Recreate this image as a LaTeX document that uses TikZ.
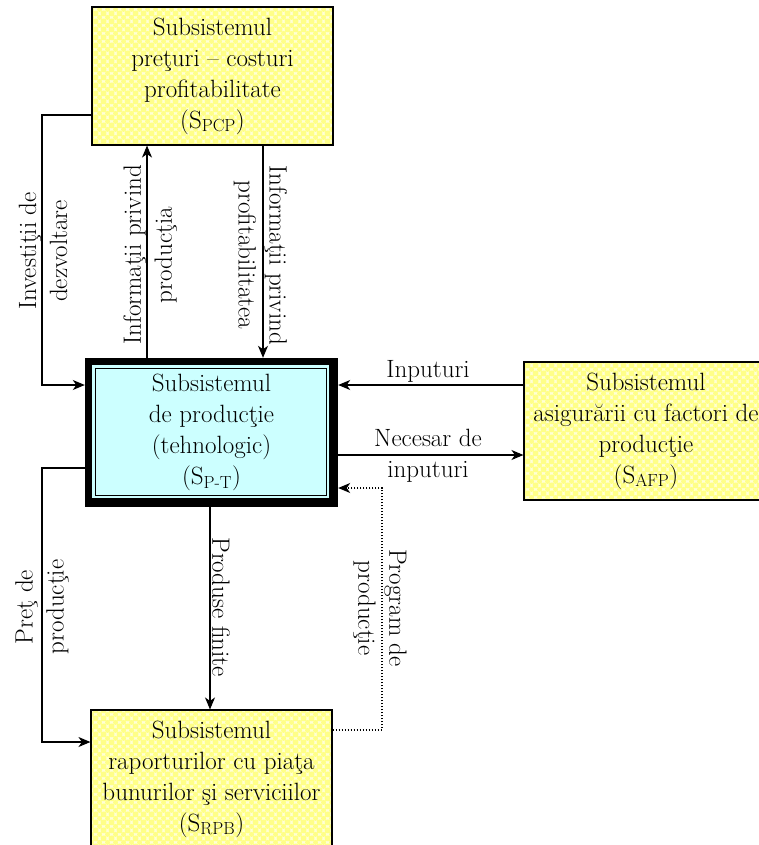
\documentclass[tikz,border=0pt]{standalone}
\usepackage{fontspec}
\usetikzlibrary{arrows.meta,patterns,backgrounds}
\definecolor{ybg}{HTML}{FFFFD8}
\definecolor{ydot}{HTML}{FFFF88}
\definecolor{cyanfill}{HTML}{CCFFFF}
\pgfdeclarepatternformonly{yellowdots}{\pgfqpoint{0pt}{0pt}}{\pgfqpoint{8pt}{8pt}}{\pgfqpoint{8pt}{8pt}}{%
  \pgfpathcircle{\pgfqpoint{0pt}{0pt}}{2.8pt}%
  \pgfpathcircle{\pgfqpoint{8pt}{0pt}}{2.8pt}%
  \pgfpathcircle{\pgfqpoint{0pt}{8pt}}{2.8pt}%
  \pgfpathcircle{\pgfqpoint{8pt}{8pt}}{2.8pt}%
  \pgfpathcircle{\pgfqpoint{4pt}{4pt}}{2.8pt}%
  \pgfusepath{fill}}
\tikzset{
  every node/.style={font=\fontsize{25}{31}\selectfont, align=center},
  ybox/.style={draw, line width=1.1pt, preaction={fill=ybg}, pattern=yellowdots,
    pattern color=ydot, minimum width=241pt, minimum height=138pt, inner sep=0pt},
  pbox/.style={minimum width=253pt, minimum height=149pt, inner sep=0pt},
  arr/.style={line width=1.1pt, -{Stealth[length=12pt,width=10pt,inset=3.5pt]}},
  dotarr/.style={arr, dash pattern=on 1.3pt off 1.7pt},
  lbl/.style={inner sep=1pt},
}
\begin{document}
\begin{tikzpicture}[x=1pt,y=-1pt]
\useasboundingbox (0,0) rectangle (758,845);

% boxes
\node[ybox] (pcp) at (212.5,76) {Subsistemul\\preţuri – costuri\\profitabilitate\\(S\textsubscript{PCP})};
\node[pbox] (ppt) at (211.5,432.5) {Subsistemul\\de producţie\\(tehnologic)\\(S\textsubscript{P-T})};
\begin{scope}[on background layer]
  \fill[black] (ppt.north west) rectangle (ppt.south east);
  \fill[cyanfill] (92,365) rectangle (329,498);
  \draw[line width=1pt] (95,368) rectangle (326,495);
\end{scope}
\node[ybox, minimum width=244pt] (afp) at (646,431) {Subsistemul\\asigurării cu factori de\\producţie\\(S\textsubscript{AFP})};
\node[ybox] (rpb) at (211.5,779) {Subsistemul\\raporturilor cu piaţa\\bunurilor şi serviciilor\\(S\textsubscript{RPB})};

% turning points
\coordinate (a1) at (42,115);
\coordinate (a2) at (42,385);
\coordinate (b) at (147,0);
\coordinate (c) at (263,0);
\coordinate (d) at (0,385);
\coordinate (e) at (0,455);
\coordinate (f1) at (42,468);
\coordinate (f2) at (42,742);
\coordinate (g) at (210,0);
\coordinate (h1) at (382,730);
\coordinate (h2) at (382,488);

% connectors
\draw[arr] (pcp.west |- a1) -- (a1) -- (a2) -- (ppt.west |- a2);
\draw[arr] (ppt.north -| b) -- (pcp.south -| b);
\draw[arr] (pcp.south -| c) -- (ppt.north -| c);
\draw[arr] (afp.west |- d) -- (ppt.east |- d);
\draw[arr] (ppt.east |- e) -- (afp.west |- e);
\draw[arr] (ppt.west |- f1) -- (f1) -- (f2) -- (rpb.west |- f2);
\draw[arr] (ppt.south -| g) -- (rpb.north -| g);
\draw[dotarr] (rpb.east |- h1) -- (h1) -- (h2) -- (ppt.east |- h2);

% labels
\node[lbl, rotate=90] (l1) at (43,251) {Investiţii de\\dezvoltare};
\node[lbl, rotate=90] (l2) at (150,255) {Informaţii privind\\producţia};
\node[lbl, rotate=-90] (l3) at (260.5,255) {Informaţii privind\\profitabilitatea};
\node[lbl] (l4) at (428,371) {Inputuri};
\node[lbl] (l5) at (428,456) {Necesar de\\inputuri};
\node[lbl, rotate=90] (l6) at (42,607) {Preţ de\\producţie};
\node[lbl, rotate=-90] (l7) at (221,607) {Produse finite};
\node[lbl, rotate=-90] (l8) at (380,608) {Program de\\producţie};
\end{tikzpicture}
\end{document}
